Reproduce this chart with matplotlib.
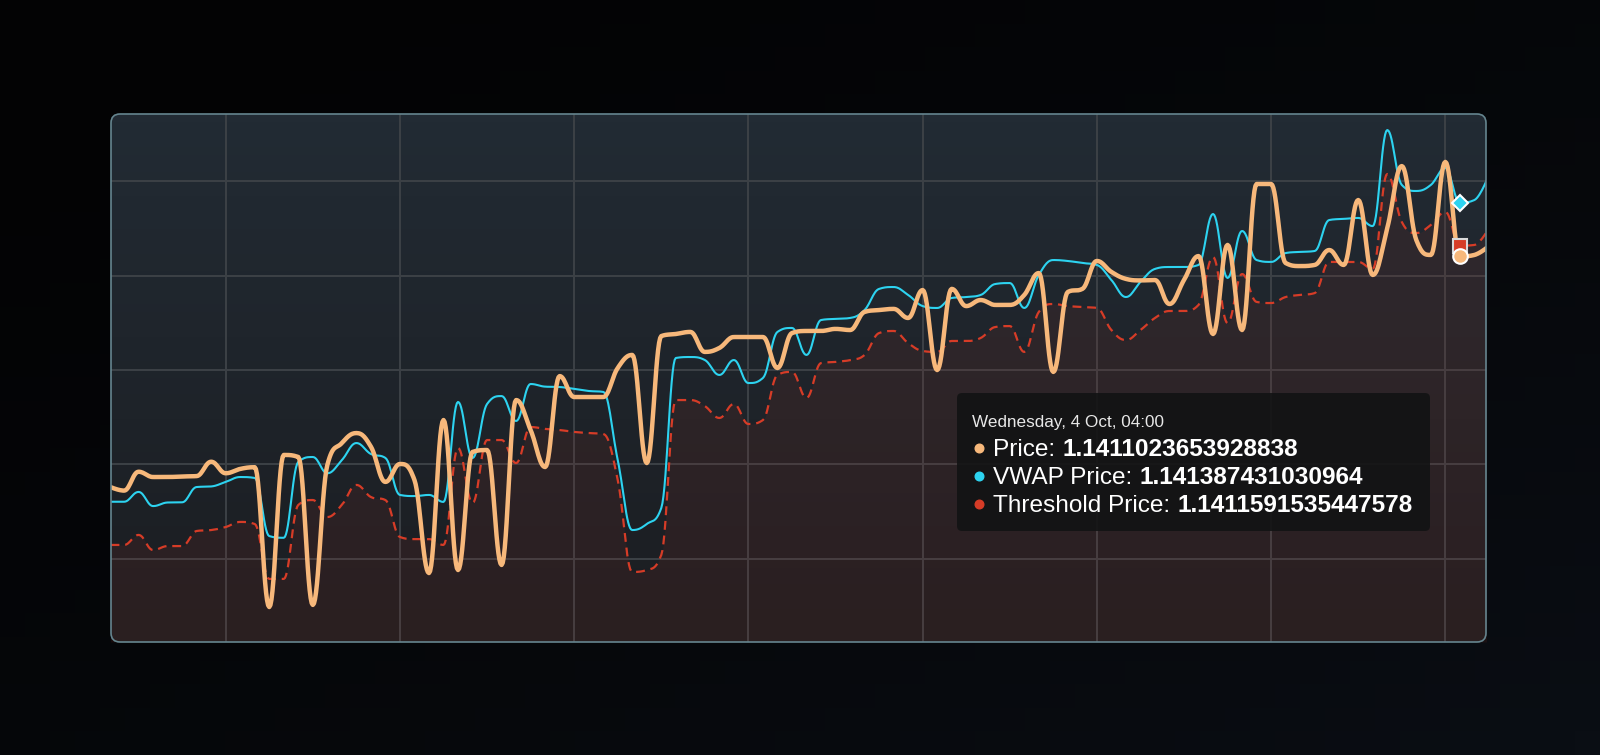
import numpy as np
import pandas as pd
import matplotlib
matplotlib.use("Agg")
import matplotlib.pyplot as plt
import matplotlib.dates as mdates
from matplotlib.patches import FancyBboxPatch
from matplotlib.lines import Line2D
from matplotlib.transforms import IdentityTransform

# 4-hourly samples, Sep 18 16:00 -> Oct 4 12:00
times = pd.date_range("2023-09-18 16:00", periods=96, freq="4h")

price = [
    1.139882, 1.139861, 1.139961, 1.139933, 1.139933, 1.139936, 1.139938, 1.140014,
    1.139953, 1.139976, 1.139985, 1.139244, 1.140050, 1.140039, 1.139255, 1.139997,
    1.140113, 1.140166, 1.140094, 1.139907, 1.140002, 1.139917, 1.139424, 1.140235,
    1.139440, 1.140066, 1.140076, 1.139467, 1.140341, 1.140182, 1.139986, 1.140468,
    1.140357, 1.140357, 1.140357, 1.140511, 1.140580, 1.140007, 1.140680, 1.140691,
    1.140702, 1.140596, 1.140617, 1.140675, 1.140675, 1.140675, 1.140511, 1.140696,
    1.140707, 1.140707, 1.140718, 1.140712, 1.140808, 1.140818, 1.140824, 1.140776,
    1.140924, 1.140500, 1.140930, 1.140839, 1.140871, 1.140845, 1.140845, 1.140898,
    1.141014, 1.140490, 1.140914, 1.140930, 1.141078, 1.141020, 1.140983, 1.140975,
    1.140977, 1.140850, 1.140977, 1.141104, 1.140691, 1.141163, 1.140712, 1.141486,
    1.141486, 1.141067, 1.141051, 1.141057, 1.141136, 1.141057, 1.141401, 1.141004,
    1.141253, 1.141581, 1.141189, 1.141110, 1.141603, 1.1411023653928838, 1.141110, 1.141157,
]
vwap = [
    1.139802, 1.139802, 1.139854, 1.139779, 1.139798, 1.139799, 1.139880, 1.139883,
    1.139907, 1.139933, 1.139928, 1.139620, 1.139611, 1.140013, 1.140039, 1.139953,
    1.140023, 1.140113, 1.140055, 1.140034, 1.139838, 1.139832, 1.139838, 1.139801,
    1.140331, 1.140034, 1.140320, 1.140362, 1.140230, 1.140426, 1.140412, 1.140410,
    1.140400, 1.140389, 1.140384, 1.140023, 1.139652, 1.139684, 1.139769, 1.140564,
    1.140569, 1.140553, 1.140474, 1.140553, 1.140431, 1.140458, 1.140702, 1.140723,
    1.140580, 1.140765, 1.140771, 1.140776, 1.140818, 1.140930, 1.140940, 1.140898,
    1.140839, 1.140829, 1.140882, 1.140887, 1.140898, 1.140956, 1.140961, 1.140829,
    1.141004, 1.141083, 1.141078, 1.141067, 1.141057, 1.140977, 1.140887, 1.140967,
    1.141036, 1.141046, 1.141046, 1.141057, 1.141327, 1.140988, 1.141237, 1.141083,
    1.141073, 1.141120, 1.141126, 1.141131, 1.141295, 1.141301, 1.141306, 1.141263,
    1.141772, 1.141481, 1.141449, 1.141481, 1.141571, 1.141387431030964, 1.141401, 1.141534,
]
threshold = [
    1.139573, 1.139573, 1.139626, 1.139546, 1.139567, 1.139567, 1.139647, 1.139652,
    1.139668, 1.139695, 1.139684, 1.139393, 1.139393, 1.139785, 1.139811, 1.139721,
    1.139785, 1.139891, 1.139827, 1.139811, 1.139615, 1.139604, 1.139604, 1.139573,
    1.140087, 1.139795, 1.140129, 1.140129, 1.140007, 1.140198, 1.140188, 1.140182,
    1.140172, 1.140166, 1.140161, 1.139917, 1.139430, 1.139440, 1.139520, 1.140341,
    1.140341, 1.140309, 1.140246, 1.140320, 1.140214, 1.140235, 1.140474, 1.140490,
    1.140352, 1.140537, 1.140543, 1.140553, 1.140580, 1.140696, 1.140707, 1.140643,
    1.140601, 1.140596, 1.140654, 1.140654, 1.140670, 1.140728, 1.140733, 1.140596,
    1.140808, 1.140850, 1.140839, 1.140834, 1.140829, 1.140712, 1.140659, 1.140712,
    1.140776, 1.140813, 1.140813, 1.140845, 1.141099, 1.140749, 1.141009, 1.140861,
    1.140855, 1.140887, 1.140898, 1.140908, 1.141073, 1.141073, 1.141073, 1.141036,
    1.141539, 1.141285, 1.141226, 1.141269, 1.141338, 1.1411591535447578, 1.141163, 1.141253,
]
hover_idx = 93

C_PRICE = "#f7b87b"
C_VWAP = "#2dd3f0"
C_THR = "#d63c27"


def spline(x, y, smoothing=1.5, steps=16):
    # same control point rule as a highcharts "spline" series
    x = np.asarray(x, float)
    y = np.asarray(y, float)
    n = len(x)
    lc = np.column_stack([x, y])
    rc = lc.copy()
    d = smoothing + 1
    for i in range(1, n - 1):
        px, py = x[i], y[i]
        lx = (smoothing * px + x[i - 1]) / d
        ly = (smoothing * py + y[i - 1]) / d
        rx = (smoothing * px + x[i + 1]) / d
        ry = (smoothing * py + y[i + 1]) / d
        if rx != lx:
            corr = (ry - ly) * (rx - px) / (rx - lx) + py - ry
            ly += corr
            ry += corr
        if ly > y[i - 1] and ly > py:
            ly = max(y[i - 1], py)
            ry = 2 * py - ly
        elif ly < y[i - 1] and ly < py:
            ly = min(y[i - 1], py)
            ry = 2 * py - ly
        if ry > y[i + 1] and ry > py:
            ry = max(y[i + 1], py)
            ly = 2 * py - ry
        elif ry < y[i + 1] and ry < py:
            ry = min(y[i + 1], py)
            ly = 2 * py - ry
        lc[i] = (lx, ly)
        rc[i] = (rx, ry)
    t = np.linspace(0, 1, steps)[:, None]
    xs, ys = [x[0]], [y[0]]
    for i in range(1, n):
        p0 = np.array([x[i - 1], y[i - 1]])
        p3 = np.array([x[i], y[i]])
        seg = ((1 - t) ** 3) * p0 + 3 * ((1 - t) ** 2) * t * rc[i - 1] \
            + 3 * (1 - t) * t ** 2 * lc[i] + t ** 3 * p3
        xs.extend(seg[1:, 0])
        ys.extend(seg[1:, 1])
    return np.array(xs), np.array(ys)


W, H = 1600, 755
fig = plt.figure(figsize=(W / 100, H / 100), dpi=100)

# page background
bg = fig.add_axes([0, 0, 1, 1], zorder=-10)
gx, gy = np.meshgrid(np.linspace(0, 1, 64), np.linspace(0, 1, 32))
tt = ((gx + gy) / 2)[..., None] ** 1.5
c0 = np.array([3, 3, 4]) / 255
c1 = np.array([10, 14, 20]) / 255
bg.imshow(c0 * (1 - tt) + c1 * tt, aspect="auto", extent=[0, 1, 0, 1])
bg.axis("off")

# plot area
L, R, T, B = 111, 1486, 114, 642
ax = fig.add_axes([L / W, (H - B) / H, (R - L) / W, (B - T) / H])
ax.set_facecolor("none")
for s in ax.spines.values():
    s.set_visible(False)

frame = FancyBboxPatch((L, H - B), R - L, B - T, boxstyle="round,pad=0,rounding_size=9",
                       transform=IdentityTransform(), facecolor="none",
                       edgecolor="#65858f", linewidth=1.2, zorder=5)
fig.add_artist(frame)

grad_top = np.array([34, 43, 52]) / 255
grad_bot = np.array([27, 29, 33]) / 255
v = np.linspace(0, 1, 64)[:, None, None]
im = ax.imshow(grad_top * (1 - v) + grad_bot * v, extent=[0, 1, 0, 1],
               transform=ax.transAxes, aspect="auto", zorder=0)
im.set_clip_path(frame)

xn = mdates.date2num(times)
ymin, ymax = 1.1390586, 1.141857

sx, sy = spline(xn, threshold)
ax.fill_between(sx, sy, ymin, color="#9a2e1e", alpha=0.12, lw=0, zorder=1)
ax.plot(sx, sy, color=C_THR, lw=1.6, ls=(0, (4, 2.6)), zorder=2)

sx, sy = spline(xn, vwap)
ax.plot(sx, sy, color=C_VWAP, lw=1.5, zorder=3)

sx, sy = spline(xn, price)
ax.plot(sx, sy, color=C_PRICE, lw=3.2, zorder=4, solid_capstyle="round")

# hover markers
hx = xn[hover_idx]
ax.plot(hx, threshold[hover_idx], marker="s", ms=9.5, mfc=C_THR, mec="#d9d9d9", mew=1.5, zorder=6)
ax.plot(hx, vwap[hover_idx], marker="D", ms=8.5, mfc=C_VWAP, mec="white", mew=1.5, zorder=6)
ax.plot(hx, price[hover_idx], marker="o", ms=10.5, mfc=C_PRICE, mec="white", mew=1.5, zorder=7)

ax.set_xticks(mdates.date2num(pd.date_range("2023-09-20", "2023-10-04", freq="2D")))
ax.set_yticks([1.1395, 1.1400, 1.1405, 1.1410, 1.1415])
ax.grid(True, color="#3c4146", lw=1.4)
ax.set_axisbelow(True)
ax.tick_params(length=0, labelbottom=False, labelleft=False)
t0 = times[0]
ax.set_xlim(mdates.date2num(t0 + pd.Timedelta(hours=0.4)), mdates.date2num(t0 + pd.Timedelta(hours=379.2)))
ax.set_ylim(ymin, ymax)

# tooltip
tip = FancyBboxPatch((957, H - 531), 473, 138, boxstyle="round,pad=0,rounding_size=5",
                     transform=IdentityTransform(), facecolor="#121314", alpha=0.9,
                     edgecolor="none", zorder=8)
fig.add_artist(tip)
fam = ["Liberation Sans", "DejaVu Sans"]
fig.text(971.5 / W, (H - 426.5) / H, times[hover_idx].strftime("%A, %-d %b, %H:%M"),
         color="#e8e8e8", fontsize=12.3, family=fam, zorder=9)

rows = [("Price", price, C_PRICE, 456), ("VWAP Price", vwap, C_VWAP, 484),
        ("Threshold Price", threshold, C_THR, 511.5)]
renderer = fig.canvas.get_renderer()
for name, series, col, base in rows:
    fig.add_artist(Line2D([978.5 / W], [(H - base + 8) / H], marker="o", ms=6.2, color=col,
                          lw=0, transform=fig.transFigure, zorder=9))
    lab = fig.text(993 / W, (H - base) / H, name + ":", color="white", fontsize=17.6,
                   family=fam, zorder=9)
    x1 = lab.get_window_extent(renderer).x1
    fig.text((x1 + 7) / W, (H - base) / H, repr(series[hover_idx]), color="white",
             fontsize=17.6, fontweight="bold", family=fam, zorder=9)

fig.savefig("out.png", dpi=100)
